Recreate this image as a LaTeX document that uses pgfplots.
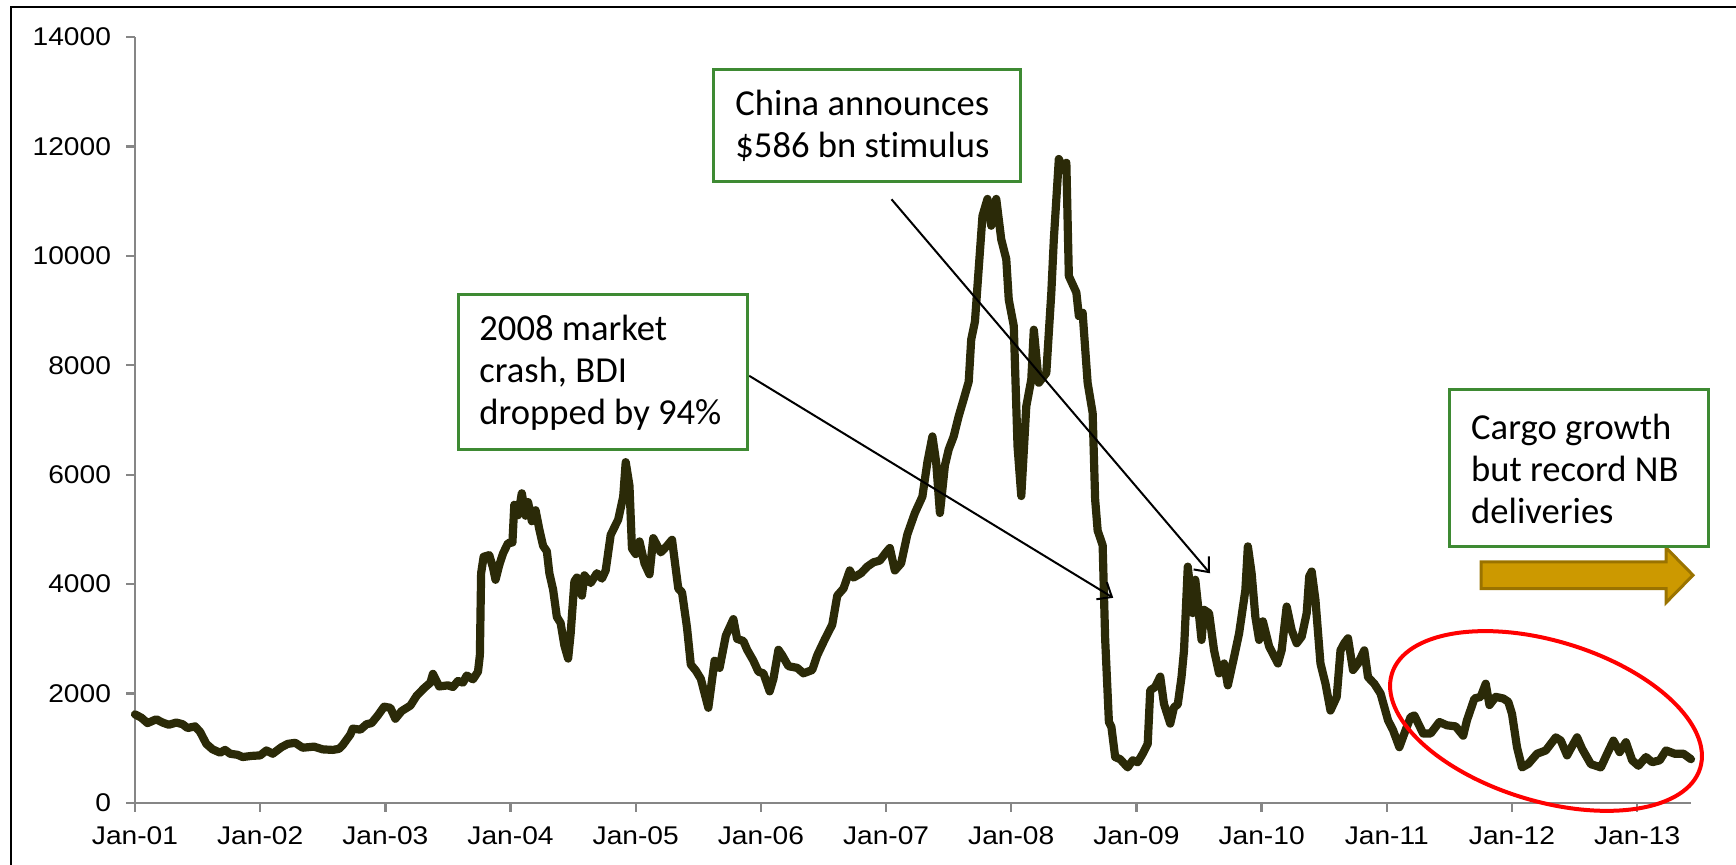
\documentclass[border=0pt]{standalone}
\usepackage{fontspec}
\setmainfont{Liberation Sans}
\newfontfamily\calibri[Ligatures=NoCommon]{Carlito}
\usepackage{graphicx}
\usepackage{pgfplots}
\usepackage{pgfplotstable}
\pgfplotsset{compat=1.18}
\usetikzlibrary{arrows.meta}
\definecolor{bdi}{HTML}{2B2A08}
\definecolor{boxgreen}{HTML}{3E8A33}
\definecolor{axgray}{HTML}{868686}
\definecolor{goldfill}{HTML}{CC9900}
\definecolor{golddraw}{HTML}{9A7300}
\newcommand{\tl}[1]{\scalebox{1.1}[1]{#1}}

\pgfplotstableread{
t v
0.00 1620
0.05 1560
0.10 1460
0.17 1530
0.22 1470
0.27 1430
0.33 1470
0.38 1440
0.42 1370
0.48 1400
0.52 1300
0.57 1080
0.62 980
0.68 920
0.72 970
0.76 900
0.82 880
0.86 840
0.93 860
1.00 870
1.05 960
1.10 900
1.17 1020
1.22 1080
1.28 1100
1.34 1010
1.43 1030
1.50 980
1.58 970
1.63 990
1.66 1060
1.72 1250
1.74 1360
1.80 1340
1.85 1440
1.89 1460
1.94 1600
1.99 1760
2.04 1740
2.08 1540
2.13 1680
2.20 1780
2.25 1960
2.31 2100
2.36 2200
2.38 2360
2.43 2130
2.50 2150
2.54 2120
2.58 2230
2.62 2200
2.65 2330
2.70 2260
2.74 2400
2.755 2700
2.765 4200
2.785 4500
2.83 4530
2.86 4300
2.88 4080
2.91 4350
2.94 4560
2.98 4750
3.015 4760
3.03 5450
3.06 5260
3.09 5660
3.12 5250
3.14 5500
3.17 5150
3.20 5350
3.23 5000
3.26 4700
3.29 4600
3.31 4200
3.34 3900
3.37 3400
3.40 3290
3.43 2880
3.46 2640
3.48 3090
3.51 4050
3.53 4120
3.57 3790
3.59 4160
3.64 4020
3.69 4200
3.73 4100
3.76 4250
3.80 4900
3.86 5180
3.90 5600
3.92 6230
3.95 5800
3.97 4650
4.00 4550
4.03 4780
4.07 4380
4.11 4180
4.14 4840
4.20 4580
4.25 4700
4.29 4810
4.34 3920
4.37 3850
4.41 3200
4.44 2530
4.48 2420
4.52 2270
4.58 1740
4.63 2600
4.67 2470
4.72 3060
4.78 3360
4.81 3000
4.86 2960
4.89 2800
4.94 2600
4.98 2400
5.02 2370
5.07 2040
5.10 2270
5.14 2800
5.17 2700
5.22 2500
5.29 2470
5.34 2370
5.41 2430
5.45 2700
5.51 2990
5.57 3260
5.61 3790
5.66 3920
5.71 4250
5.74 4120
5.80 4200
5.85 4320
5.90 4400
5.95 4430
6.00 4580
6.03 4660
6.07 4250
6.12 4380
6.17 4910
6.23 5300
6.29 5600
6.33 6230
6.37 6700
6.40 6230
6.43 5300
6.47 6170
6.50 6460
6.54 6700
6.58 7070
6.62 7380
6.66 7700
6.68 8470
6.71 8800
6.73 9450
6.77 10730
6.81 11040
6.84 10550
6.88 11040
6.92 10300
6.96 9940
6.98 9200
7.02 8720
7.05 6520
7.08 5610
7.12 7250
7.16 7740
7.18 8650
7.22 7680
7.28 7860
7.32 9330
7.34 10300
7.38 11770
7.41 11600
7.44 11700
7.46 9630
7.52 9330
7.54 8900
7.57 8960
7.61 7680
7.65 7130
7.67 5550
7.69 4980
7.73 4710
7.75 3000
7.78 1480
7.80 1390
7.83 840
7.87 800
7.93 650
7.97 780
8.01 745
8.05 900
8.09 1080
8.11 2060
8.15 2120
8.19 2310
8.22 1810
8.27 1450
8.30 1750
8.33 1800
8.36 2300
8.38 2790
8.41 4320
8.45 3470
8.47 4080
8.49 3650
8.52 2980
8.54 3530
8.58 3470
8.62 2790
8.66 2370
8.70 2550
8.73 2150
8.78 2670
8.82 3100
8.87 3890
8.89 4690
8.92 4200
8.95 3400
8.98 2980
9.01 3320
9.06 2860
9.13 2550
9.16 2790
9.20 3590
9.24 3160
9.28 2920
9.32 3040
9.36 3470
9.38 4140
9.40 4230
9.43 3710
9.47 2550
9.51 2180
9.55 1690
9.60 1940
9.63 2790
9.66 2920
9.69 3010
9.73 2430
9.77 2550
9.82 2790
9.85 2300
9.90 2180
9.95 2000
10.01 1510
10.05 1330
10.10 1020
10.14 1270
10.19 1570
10.22 1600
10.29 1270
10.35 1270
10.42 1480
10.48 1420
10.55 1400
10.61 1230
10.64 1510
10.70 1910
10.75 1940
10.79 2180
10.82 1790
10.87 1940
10.93 1910
10.97 1850
11.00 1630
11.04 1020
11.08 650
11.13 715
11.20 900
11.27 960
11.31 1080
11.35 1200
11.39 1140
11.44 870
11.49 1080
11.52 1200
11.56 990
11.63 710
11.71 650
11.76 900
11.81 1140
11.86 930
11.91 1110
11.96 780
12.01 680
12.07 840
12.12 745
12.18 780
12.23 960
12.30 900
12.37 900
12.43 800
}\bdidata

\begin{document}
\begin{tikzpicture}
\path[use as bounding box] (-67.5pt,-31pt) rectangle (800.5pt,401.5pt);
\begin{axis}[
  at={(0pt,0pt)}, anchor=origin,
  scale only axis, width=778pt, height=383pt,
  xmin=0, xmax=12.43, ymin=0, ymax=14000,
  scaled y ticks=false,
  axis lines*=left,
  axis line style={axgray, line width=1.2pt},
  tick style={axgray, line width=1.2pt},
  tick align=outside, major tick length=4.5pt,
  xtick={0,...,12},
  xticklabels={\tl{Jan-01},\tl{Jan-02},\tl{Jan-03},\tl{Jan-04},\tl{Jan-05},\tl{Jan-06},\tl{Jan-07},\tl{Jan-08},\tl{Jan-09},\tl{Jan-10},\tl{Jan-11},\tl{Jan-12},\tl{Jan-13}},
  ytick={0,2000,4000,6000,8000,10000,12000,14000},
  yticklabels={\tl{0},\tl{2000},\tl{4000},\tl{6000},\tl{8000},\tl{10000},\tl{12000},\tl{14000}},
  tick label style={font=\fontsize{12.8}{14}\selectfont, text=black},
  xticklabel style={yshift=-4pt},
  yticklabel style={xshift=-4pt},
  clip=false,
]
\addplot[bdi, line width=4.1pt, line join=round, line cap=round] table[x=t,y=v] {\bdidata};
\end{axis}
% outer frame
\draw[black, line width=1pt] (-61.75pt,-40pt) -- (-61.75pt,398.2pt) -- (810pt,398.2pt);
% black arrows
\draw[black, line width=1pt, -{Straight Barb[length=6pt,width=10pt]}] (307.1pt,213.6pt) -- (489.1pt,102.6pt);
\draw[black, line width=1pt, -{Straight Barb[length=6pt,width=10pt]}] (378.25pt,301.85pt) -- (537.5pt,114.85pt);
% red ellipse
\draw[red, line width=2pt, rotate around={-17:(705.5pt,41pt)}] (705.5pt,41pt) ellipse [x radius=80.6pt, y radius=40pt];
% gold arrow
\draw[golddraw, line width=1.5pt, fill=goldfill, line join=miter]
  (673pt,107.2pt) -- (765.5pt,107.2pt) -- (765.5pt,100.15pt) -- (779pt,113.9pt) -- (765.5pt,127.65pt) -- (765.5pt,120.6pt) -- (673pt,120.6pt) -- cycle;
% boxes
\draw[boxgreen, line width=1.5pt, fill=white] (289pt,310.5pt) rectangle (442.5pt,366.5pt);
\node[anchor=west, align=left, inner sep=0pt, font=\calibri\fontsize{18.3}{21}\selectfont] at (300pt,338.5pt) {China announces\\\$586 bn stimulus};
\draw[boxgreen, line width=1.5pt, fill=white] (161.5pt,176.5pt) rectangle (306pt,254pt);
\node[anchor=west, align=left, inner sep=0pt, font=\calibri\fontsize{18.3}{21}\selectfont] at (172pt,215.25pt) {2008 market\\crash, BDI\\dropped by 94\%};
\draw[boxgreen, line width=1.5pt, fill=white] (657pt,128pt) rectangle (786.5pt,206.5pt);
\node[anchor=west, align=left, inner sep=0pt, font=\calibri\fontsize{18.3}{21}\selectfont] at (667.9pt,167.25pt) {Cargo growth\\but record NB\\deliveries};
\end{tikzpicture}
\end{document}
